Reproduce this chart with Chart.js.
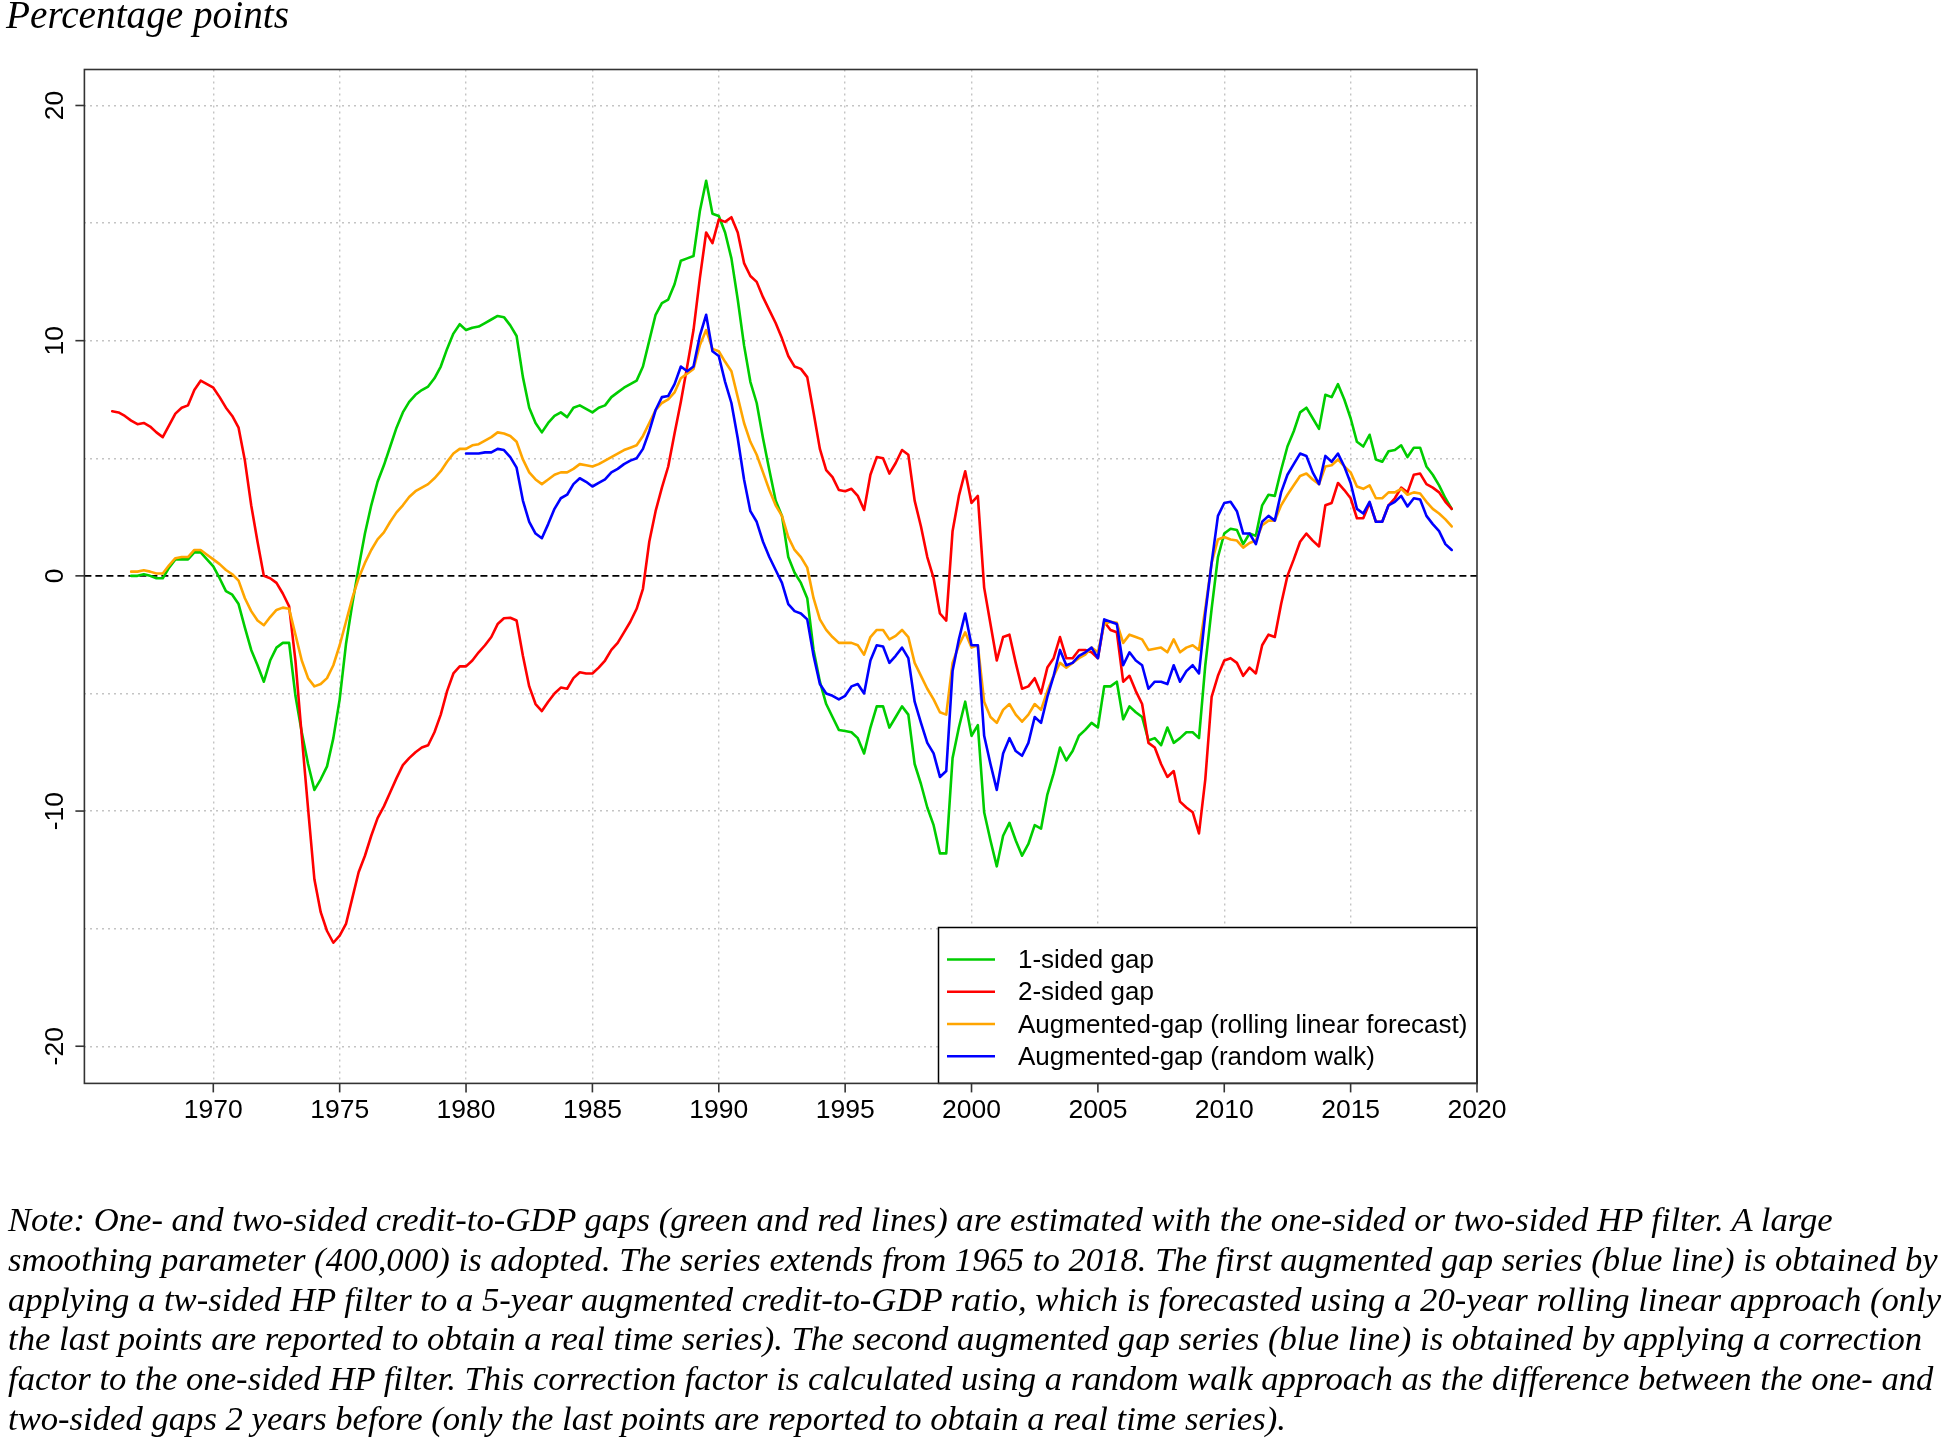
<!DOCTYPE html>
<html>
<head>
<meta charset="utf-8">
<script src="https://cdn.jsdelivr.net/npm/chart.js@4.4.1/dist/chart.umd.min.js"></script>
<style>
  html, body { margin: 0; padding: 0; background: #fff; width: 1946px; height: 1440px; overflow: hidden; }
  #wrap { position: relative; width: 1946px; height: 1440px; }
  #c { position: absolute; left: 0; top: 0; }
  .serif { position: absolute; font-family: "Liberation Serif", "Times New Roman", serif; font-style: italic; color: #000; white-space: nowrap; line-height: 1; }
</style>
</head>
<body>
<div id="wrap">
  <canvas id="c" width="1946" height="1440"></canvas>
  <div id="title" class="serif">Percentage points</div>
  <div id="note"></div>
</div>
<script>
// ---------------- data (quarterly observations) ----------------
const quarterStep = 0.25;

const oneSidedStart = 1966.75;
const oneSidedGap = [
  0.0,
  0.0, 0.07, 0.0, -0.1,
  -0.1, 0.35, 0.7, 0.7,
  0.7, 1.0, 1.0, 0.7,
  0.4, -0.1, -0.65, -0.8,
  -1.2, -2.2, -3.15, -3.8,
  -4.5, -3.6, -3.05, -2.85,
  -2.85, -5.1, -6.65, -8.0,
  -9.1, -8.65, -8.1, -6.9,
  -5.25, -2.9, -1.2, 0.35,
  1.8, 3.0, 4.0, 4.7,
  5.5, 6.3, 6.95, 7.4,
  7.7, 7.9, 8.05, 8.4,
  8.9, 9.65, 10.3, 10.7,
  10.45, 10.55, 10.6, 10.75,
  10.9, 11.05, 11.0, 10.65,
  10.2, 8.45, 7.15, 6.5,
  6.1, 6.5, 6.8, 6.95,
  6.75, 7.15, 7.25, 7.1,
  6.95, 7.15, 7.25, 7.6,
  7.8, 8.0, 8.15, 8.3,
  8.9, 10.0, 11.1, 11.6,
  11.75, 12.4, 13.4, 13.5,
  13.6, 15.5, 16.8, 15.4,
  15.3, 14.6, 13.5, 11.75,
  9.8, 8.25, 7.35, 5.85,
  4.5, 3.2, 2.55, 0.8,
  0.13, -0.3, -0.95, -3.15,
  -4.5, -5.45, -6.0, -6.55,
  -6.6, -6.65, -6.9, -7.55,
  -6.45, -5.55, -5.55, -6.45,
  -6.0, -5.55, -5.9, -8.0,
  -8.85, -9.85, -10.6, -11.8,
  -11.8, -7.75, -6.45, -5.35,
  -6.8, -6.35, -10.05, -11.25,
  -12.35, -11.05, -10.5, -11.25,
  -11.9, -11.4, -10.6, -10.75,
  -9.3, -8.4, -7.3, -7.85,
  -7.45, -6.8, -6.55, -6.25,
  -6.45, -4.7, -4.7, -4.5,
  -6.1, -5.55, -5.8, -6.0,
  -7.0, -6.9, -7.2, -6.45,
  -7.1, -6.9, -6.65, -6.65,
  -6.9, -3.8, -1.4, 0.8,
  1.8, 2.0, 1.95, 1.35,
  1.8, 1.7, 3.0, 3.45,
  3.4, 4.5, 5.5, 6.15,
  6.95, 7.15, 6.7, 6.25,
  7.7, 7.6, 8.15, 7.5,
  6.7, 5.7, 5.5, 6.0,
  4.95, 4.85, 5.3, 5.35,
  5.55, 5.05, 5.45, 5.45,
  4.65, 4.3, 3.85, 3.3,
  2.85
];

const twoSidedStart = 1966.0;
const twoSidedGap = [
  7.0, 6.95, 6.8, 6.6,
  6.45, 6.5, 6.35, 6.1,
  5.9, 6.4, 6.9, 7.15,
  7.25, 7.9, 8.3, 8.15,
  8.0, 7.6, 7.15, 6.8,
  6.3, 4.9, 3.0, 1.45,
  0.0, -0.1, -0.3, -0.75,
  -1.3, -3.6, -6.8, -9.9,
  -12.9, -14.3, -15.1, -15.6,
  -15.3, -14.8, -13.7, -12.6,
  -11.9, -11.05, -10.3, -9.8,
  -9.2, -8.6, -8.05, -7.75,
  -7.5, -7.3, -7.2, -6.65,
  -5.9, -4.9, -4.15, -3.85,
  -3.85, -3.6, -3.25, -2.95,
  -2.6, -2.05, -1.8, -1.78,
  -1.9, -3.4, -4.7, -5.45,
  -5.75, -5.35, -5.0, -4.75,
  -4.8, -4.35, -4.1, -4.15,
  -4.15, -3.9, -3.6, -3.15,
  -2.85, -2.4, -1.95, -1.4,
  -0.55, 1.45, 2.75, 3.75,
  4.65, 6.05, 7.4, 8.9,
  10.45, 12.65, 14.6, 14.15,
  15.15, 15.05, 15.25, 14.6,
  13.3, 12.75, 12.5, 11.85,
  11.3, 10.75, 10.1, 9.35,
  8.9, 8.8, 8.45, 6.95,
  5.4, 4.5, 4.2, 3.65,
  3.6, 3.7, 3.4, 2.8,
  4.3, 5.05, 5.0, 4.35,
  4.8, 5.35, 5.15, 3.2,
  2.1, 0.8, -0.1, -1.6,
  -1.9, 1.9, 3.4, 4.45,
  3.1, 3.4, -0.5, -2.05,
  -3.6, -2.6, -2.5, -3.7,
  -4.8, -4.7, -4.35, -5.0,
  -3.9, -3.5, -2.6, -3.5,
  -3.5, -3.15, -3.15, -3.25,
  -3.5, -1.95, -2.3, -2.4,
  -4.5, -4.25, -4.9, -5.45,
  -7.1, -7.3, -8.0, -8.55,
  -8.3, -9.6, -9.85, -10.05,
  -10.95, -8.65, -5.15, -4.25,
  -3.6, -3.5, -3.7, -4.25,
  -3.9, -4.15, -2.95, -2.5,
  -2.6, -1.2, 0.0, 0.7,
  1.45, 1.8, 1.5, 1.25,
  3.0, 3.1, 3.95, 3.65,
  3.3, 2.45, 2.45, 3.1,
  2.3, 2.3, 3.0, 3.3,
  3.75, 3.55, 4.3, 4.35,
  3.9, 3.75, 3.55, 3.15,
  2.85
];

const rollingStart = 1966.75;
const augmentedRolling = [
  0.18,
  0.18, 0.24, 0.18, 0.1,
  0.1, 0.45, 0.75, 0.8,
  0.8, 1.1, 1.1, 0.9,
  0.7, 0.5, 0.25, 0.07,
  -0.2, -0.95, -1.5, -1.9,
  -2.1, -1.75, -1.45, -1.35,
  -1.4, -2.5, -3.6, -4.35,
  -4.7, -4.6, -4.35, -3.8,
  -2.95, -1.95, -0.95, -0.1,
  0.55, 1.1, 1.55, 1.85,
  2.3, 2.7, 3.0, 3.35,
  3.6, 3.75, 3.9, 4.15,
  4.45, 4.85, 5.2, 5.4,
  5.4, 5.55, 5.6, 5.75,
  5.9, 6.1, 6.05, 5.95,
  5.7, 4.95, 4.4, 4.1,
  3.9, 4.1, 4.3, 4.4,
  4.4, 4.55, 4.75, 4.7,
  4.65, 4.75, 4.9, 5.05,
  5.2, 5.35, 5.45, 5.55,
  5.95, 6.5, 7.05, 7.35,
  7.5, 7.8, 8.4, 8.6,
  8.8, 9.8, 10.45, 9.65,
  9.55, 9.1, 8.7, 7.6,
  6.5, 5.7, 5.15, 4.4,
  3.65, 3.0, 2.55, 1.65,
  1.1, 0.8, 0.35, -0.95,
  -1.85, -2.3, -2.6, -2.85,
  -2.85, -2.85, -2.95, -3.35,
  -2.6, -2.3, -2.3, -2.7,
  -2.55, -2.3, -2.6, -3.7,
  -4.25, -4.8, -5.25, -5.8,
  -5.9, -3.7, -2.95, -2.4,
  -3.05, -2.95, -5.35, -6.0,
  -6.25, -5.7, -5.45, -5.9,
  -6.2, -5.9, -5.45, -5.7,
  -4.9, -4.25, -3.7, -3.9,
  -3.7, -3.5, -3.35, -3.05,
  -3.25, -2.05, -1.95, -2.0,
  -2.85, -2.5, -2.6, -2.7,
  -3.15, -3.1, -3.05, -3.25,
  -2.7, -3.25, -3.05, -2.95,
  -3.15, -1.4, 0.55, 1.55,
  1.65, 1.55, 1.5, 1.2,
  1.4, 1.5, 2.15, 2.35,
  2.35, 3.0, 3.45, 3.85,
  4.25, 4.35, 4.1, 3.9,
  4.65, 4.7, 4.95, 4.65,
  4.4, 3.8, 3.7, 3.85,
  3.3, 3.3, 3.55, 3.55,
  3.7, 3.45, 3.55, 3.5,
  3.15, 2.85, 2.65, 2.4,
  2.1
];

const randomWalkStart = 1980.0;
const augmentedRandomWalk = [
  5.2, 5.2, 5.2, 5.25,
  5.25, 5.4, 5.35, 5.05,
  4.6, 3.2, 2.3, 1.8,
  1.6, 2.2, 2.85, 3.3,
  3.45, 3.9, 4.15, 4.0,
  3.8, 3.95, 4.1, 4.4,
  4.55, 4.75, 4.9, 5.0,
  5.4, 6.15, 7.05, 7.6,
  7.65, 8.15, 8.9, 8.7,
  8.9, 10.2, 11.1, 9.55,
  9.35, 8.25, 7.35, 5.85,
  4.1, 2.75, 2.3, 1.45,
  0.8, 0.25, -0.3, -1.2,
  -1.5, -1.6, -1.85, -3.4,
  -4.6, -5.0, -5.1, -5.25,
  -5.1, -4.7, -4.6, -5.0,
  -3.6, -2.95, -3.0, -3.7,
  -3.4, -3.05, -3.5, -5.35,
  -6.25, -7.1, -7.55, -8.55,
  -8.3, -4.05, -2.7, -1.6,
  -2.95, -2.95, -6.8, -8.0,
  -9.1, -7.55, -6.9, -7.45,
  -7.65, -7.1, -6.0, -6.25,
  -5.15, -4.25, -3.15, -3.8,
  -3.7, -3.4, -3.25, -3.05,
  -3.5, -1.85, -1.95, -2.05,
  -3.8, -3.25, -3.6, -3.8,
  -4.8, -4.5, -4.5, -4.6,
  -3.8, -4.5, -4.05, -3.8,
  -4.15, -1.6, 0.55, 2.55,
  3.1, 3.15, 2.75, 1.8,
  1.8, 1.35, 2.3, 2.55,
  2.35, 3.55, 4.3, 4.75,
  5.2, 5.1, 4.4, 3.9,
  5.1, 4.85, 5.2, 4.65,
  3.95, 2.85, 2.65, 3.15,
  2.3, 2.3, 3.0, 3.15,
  3.4, 2.95, 3.3, 3.25,
  2.55, 2.2, 1.9, 1.35,
  1.1
];

const seriesLabels = ["1-sided gap", "2-sided gap", "Augmented-gap (rolling linear forecast)", "Augmented-gap (random walk)"];
const xTickYears = [1970, 1975, 1980, 1985, 1990, 1995, 2000, 2005, 2010, 2015, 2020];
const xGridYears = [1970, 1975, 1980, 1985, 1990, 1995, 2000, 2005, 2010, 2015];
const yTickValues = [20, 10, 0, -10, -20];
const yGridValues = [20, 15, 10, 5, -5, -10, -15, -20];
const titleText = "Percentage points";
const noteLines = [
  "Note: One- and two-sided credit-to-GDP gaps (green and red lines) are estimated with the one-sided or two-sided HP filter. A large",
  "smoothing parameter (400,000) is adopted. The series extends from 1965 to 2018. The first augmented gap series (blue line) is obtained by",
  "applying a tw-sided HP filter to a 5-year augmented credit-to-GDP ratio, which is forecasted using a 20-year rolling linear approach (only",
  "the last points are reported to obtain a real time series). The second augmented gap series (blue line) is obtained by applying a correction",
  "factor to the one-sided HP filter. This correction factor is calculated using a random walk approach as the difference between the one- and",
  "two-sided gaps 2 years before (only the last points are reported to obtain a real time series)."
];

// ---------------- styling / layout ----------------
const colors = ["#00CD00", "#FF0000", "#FFA500", "#0000FF"];
const AREA = { left: 84.4, right: 1477, top: 69.5, bottom: 1083.4 };
const SANS = '"Liberation Sans", Arial, sans-serif';

function toPoints(start, values) {
  return values.map((v, i) => ({ x: start + i * quarterStep, y: v }));
}

const frame = {
  id: 'frame',
  beforeDatasetsDraw(chart) {
    const { ctx, chartArea: a, scales: { y } } = chart;
    const y0 = y.getPixelForValue(0);
    ctx.save();
    ctx.strokeStyle = '#000';
    ctx.lineWidth = 1.6;
    ctx.setLineDash([7, 4]);
    ctx.beginPath();
    ctx.moveTo(a.left, y0);
    ctx.lineTo(a.right, y0);
    ctx.stroke();
    ctx.restore();
  },
  afterDraw(chart) {
    const { ctx, chartArea: a, scales: { x, y } } = chart;
    ctx.save();
    // legend box
    const lg = { left: 938.5, top: 927.5, right: a.right, bottom: a.bottom };
    ctx.fillStyle = '#fff';
    ctx.fillRect(lg.left, lg.top, lg.right - lg.left, lg.bottom - lg.top);
    ctx.strokeStyle = '#000';
    ctx.lineWidth = 1.5;
    ctx.strokeRect(lg.left, lg.top, lg.right - lg.left, lg.bottom - lg.top);
    ctx.font = '26px ' + SANS;
    ctx.textAlign = 'left';
    ctx.textBaseline = 'middle';
    chart.data.datasets.forEach((ds, i) => {
      const ry = 959.5 + i * 32.25;
      ctx.strokeStyle = ds.borderColor;
      ctx.lineWidth = 2.6;
      ctx.beginPath();
      ctx.moveTo(947, ry);
      ctx.lineTo(995, ry);
      ctx.stroke();
      ctx.fillStyle = '#000';
      ctx.fillText(ds.label, 1018, ry + 1.5);
    });
    // plot frame
    ctx.strokeStyle = '#333';
    ctx.lineWidth = 1.6;
    ctx.strokeRect(a.left, a.top, a.right - a.left, a.bottom - a.top);
    // axis ticks and labels
    ctx.fillStyle = '#000';
    ctx.strokeStyle = '#333';
    ctx.lineWidth = 1.6;
    ctx.font = '26.5px ' + SANS;
    ctx.textAlign = 'center';
    ctx.textBaseline = 'middle';
    xTickYears.forEach(t => {
      const px = x.getPixelForValue(t);
      ctx.beginPath();
      ctx.moveTo(px, a.bottom);
      ctx.lineTo(px, a.bottom + 9);
      ctx.stroke();
      ctx.fillText(String(t), px, 1110.5);
    });
    yTickValues.forEach(t => {
      const py = y.getPixelForValue(t);
      ctx.beginPath();
      ctx.moveTo(a.left - 9, py);
      ctx.lineTo(a.left, py);
      ctx.stroke();
      ctx.save();
      ctx.translate(55.5, py);
      ctx.rotate(-Math.PI / 2);
      ctx.fillText(String(t), 0, 0);
      ctx.restore();
    });
    ctx.restore();
  }
};

const starts = [oneSidedStart, twoSidedStart, rollingStart, randomWalkStart];
const values = [oneSidedGap, twoSidedGap, augmentedRolling, augmentedRandomWalk];

new Chart(document.getElementById('c'), {
  type: 'line',
  data: {
    datasets: values.map((vals, i) => ({
      label: seriesLabels[i],
      data: toPoints(starts[i], vals),
      borderColor: colors[i],
      backgroundColor: colors[i],
      borderWidth: 2.6,
      pointRadius: 0,
      tension: 0,
      fill: false,
      order: 4 - i
    }))
  },
  options: {
    responsive: false,
    animation: false,
    devicePixelRatio: 1,
    layout: { padding: { left: AREA.left, right: 1946 - AREA.right, top: AREA.top, bottom: 1440 - AREA.bottom } },
    plugins: { legend: { display: false }, tooltip: { enabled: false } },
    elements: { line: { borderJoinStyle: 'round', borderCapStyle: 'round' } },
    scales: {
      x: {
        type: 'linear', min: 1964.9, max: 2020,
        ticks: { display: false },
        grid: { drawTicks: false, color: '#c4c4c4', lineWidth: 1.4 },
        border: { display: false, dash: [2, 4] },
        afterBuildTicks: s => { s.ticks = xGridYears.map(v => ({ value: v })); }
      },
      y: {
        type: 'linear', min: -21.58, max: 21.53,
        ticks: { display: false },
        grid: { drawTicks: false, color: '#c4c4c4', lineWidth: 1.4 },
        border: { display: false, dash: [2, 4] },
        afterBuildTicks: s => { s.ticks = yGridValues.map(v => ({ value: v })); }
      }
    }
  },
  plugins: [frame]
});

// ---------------- title and note text (sized to the reference line widths) ----------------
(function () {
  const mc = document.createElement('canvas').getContext('2d');
  const fam = '"Liberation Serif", "Times New Roman", serif';
  mc.font = 'italic 100px ' + fam;
  // title
  const tw = mc.measureText(titleText).width;
  const ts = 100 * 283 / tw;
  const title = document.getElementById('title');
  title.style.fontSize = ts + 'px';
  title.style.left = '6px';
  title.style.top = (28 - 0.8375 * ts) + 'px';
  // note
  const targets = [1835, 1926, 1936, 1915, 1933, 1277];
  const ratios = noteLines.map((l, i) => targets[i] / mc.measureText(l).width * 100).sort((p, q) => p - q);
  const ns = (ratios[2] + ratios[3]) / 2;
  const note = document.getElementById('note');
  noteLines.forEach((l, i) => {
    const d = document.createElement('div');
    d.className = 'serif';
    d.textContent = l;
    d.style.fontSize = ns + 'px';
    d.style.left = '8px';
    d.style.top = (1231 + i * 39.8 - 0.8375 * ns) + 'px';
    note.appendChild(d);
  });
})();
</script>
</body>
</html>
